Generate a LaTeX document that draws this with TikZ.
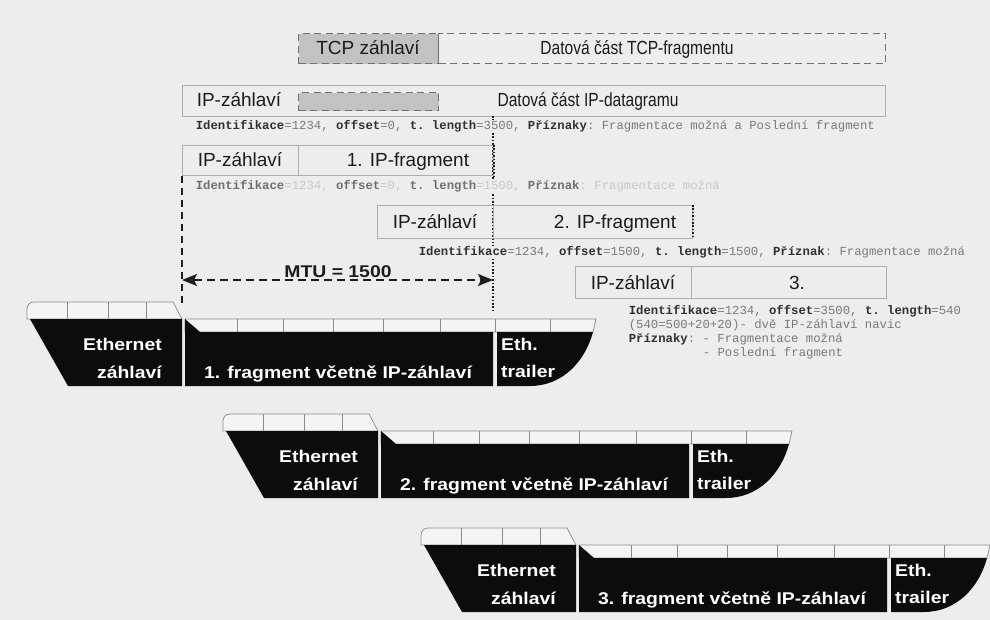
\documentclass[tikz,border=0pt]{standalone}
\usepackage{fontspec}
\setmainfont{Liberation Sans}
\newfontfamily\regf{Liberation Sans}
\newfontfamily\narrowf[FakeStretch=0.82]{Liberation Sans}
\newfontfamily\boldwf[FakeStretch=1.14]{Liberation Sans}
\newfontfamily\monof{Liberation Mono}
\usetikzlibrary{arrows.meta}
\definecolor{bg}{HTML}{EDEDED}
\definecolor{txt}{HTML}{1C1C1C}
\definecolor{boxgray}{HTML}{AEAEAE}
\definecolor{dashgray}{HTML}{707070}
\definecolor{hdrfill}{HTML}{C2C2C2}
\definecolor{keyc}{HTML}{303030}
\definecolor{valc}{HTML}{7A7A7A}
\definecolor{faintkey}{HTML}{707070}
\definecolor{faintval}{HTML}{C8C8C8}
\definecolor{frameblk}{HTML}{0C0C0C}
\definecolor{stripfill}{HTML}{F4F4F4}
\definecolor{stripline}{HTML}{8A8A8A}
\definecolor{darkline}{HTML}{1E1E1E}
\newcommand\keyw[1]{{\bfseries\color{keyc}#1}}
\newcommand\fkeyw[1]{{\bfseries\color{faintkey}#1}}
\tikzset{
  ipbox/.style={draw=boxgray, line width=0.8pt, inner sep=0pt, anchor=north west},
  tcpbox/.style={draw=dashgray, line width=1.4pt, dash pattern=on 7pt off 4.5pt, inner sep=0pt, anchor=north west},
  sanslbl/.style={font=\regf\fontsize{19}{22}\selectfont, text=txt, inner sep=0pt, anchor=base},
  narrowlbl/.style={font=\narrowf\fontsize{19}{22}\selectfont, text=txt, inner sep=0pt, anchor=base},
  monotxt/.style={font=\monof\frenchspacing\fontsize{12.3}{14.3}\selectfont, anchor=base west, inner sep=0.6pt, fill=bg, text=valc},
  ethtxt/.style={font=\boldwf\bfseries\fontsize{17}{20}\selectfont, text=white, inner sep=0pt},
  stripbox/.style={fill=stripfill, draw=stripline, line width=0.7pt},
  striplinestyle/.style={draw=stripline, line width=0.7pt},
  dashline/.style={draw=darkline, line width=1.6pt, dash pattern=on 7pt off 5pt},
  dotline/.style={draw=darkline, line width=1.5pt, dash pattern=on 1.6pt off 1.8pt},
  mtuarrow/.style={draw=darkline, line width=1.6pt, dash pattern=on 8pt off 5pt,
    {Stealth[length=15pt,width=12pt,inset=3pt]}-{Stealth[length=15pt,width=12pt,inset=3pt]}},
}
\newcommand\ethframe[4]{%
\begin{scope}[shift={(#1,#2)}]
  \path[stripbox] (27,319) -- (27,309) to[out=90,in=180] (34,302) -- (173,302) -- (182,319) -- cycle;
  \foreach \xx in {67,108,146} \draw[striplinestyle] (\xx,302) -- (\xx,319);
  \path[stripbox] (185,319) -- (596,319) -- (593,332) -- (185,332) -- cycle;
  \foreach \xx in {237,283,333,383,440,495,550} \draw[striplinestyle] (\xx,319) -- (\xx,332);
  \fill[frameblk] (30,319) -- (182,319) -- (182,386) -- (68,386) -- cycle;
  \fill[frameblk] (185,319) -- (200,332) -- (493,332) -- (493,386) -- (185,386) -- cycle;
  \fill[frameblk] (497,332) -- (593,332) .. controls (585,362) and (562,386) .. (530,386) -- (497,386) -- cycle;
  \node[ethtxt, anchor=base east] (ethA#4) at (162,350) {Ethernet};
  \node[ethtxt, anchor=base east] (ethB#4) at (162,378) {záhlaví};
  \node[ethtxt, anchor=base] (frag#4) at (338,378) {#3};
  \node[ethtxt, anchor=base west] (trA#4) at (501,350) {Eth.};
  \node[ethtxt, anchor=base west] (trB#4) at (501,377) {trailer};
\end{scope}}
\begin{document}
\begin{tikzpicture}[x=1pt,y=-1pt]
\useasboundingbox (0,0) rectangle (990,620);
\fill[bg] (0,0) rectangle (990,620);

% TCP segment
\node[tcpbox, fill=hdrfill, minimum width=140pt, minimum height=30pt] (tcph) at (298,33) {};
\node[tcpbox, minimum width=447pt, minimum height=30pt] (tcpd) at (438,33) {};
\node[sanslbl] (tcphl) at (368,55) {TCP záhlaví};
\node[narrowlbl] (tcpdl) at (637,55) {Datová část TCP-fragmentu};

% IP datagram
\node[ipbox, minimum width=703pt, minimum height=31pt] (dg) at (182,85) {};
\node[tcpbox, fill=hdrfill, line width=1.2pt, minimum width=140pt, minimum height=18pt] (dgh) at (298,92) {};
\node[sanslbl] (dghl) at (239,107) {IP-záhlaví};
\node[narrowlbl] (dgdl) at (588,107) {Datová část IP-datagramu};

% dotted MTU boundary
\coordinate (dotTop) at (493,116);
\coordinate (dotBot) at (493,312);
\draw[dotline] (dotTop) -- (dotBot);

\node[monotxt] (dgt) at (195,130) {\keyw{Identifikace}=1234, \keyw{offset}=0, \keyw{t. length}=3500, \keyw{Příznaky}: Fragmentace možná a Poslední fragment};

% fragment 1
\node[ipbox, minimum width=116pt, minimum height=30pt] (f1h) at (182,145) {};
\node[ipbox, minimum width=195pt, minimum height=30pt] (f1d) at (298,145) {};
\draw[dotline] (f1d.north east) -- (f1d.south east);
\node[sanslbl] (f1hl) at (240,167) {IP-záhlaví};
\node[sanslbl] (f1dl) at (408,167) {1. IP-fragment};
\node[monotxt, text=faintval] (f1t) at (195,190) {\fkeyw{Identifikace}=1234, \fkeyw{offset}=0, \fkeyw{t. length}=1500, \fkeyw{Příznak}: Fragmentace možná};

% fragment 2
\node[ipbox, minimum width=116pt, minimum height=33pt] (f2h) at (377,205) {};
\node[ipbox, minimum width=199pt, minimum height=33pt] (f2d) at (493,205) {};
\draw[dotline] (f2d.north east) -- (f2d.south east);
\node[sanslbl] (f2hl) at (435,229) {IP-záhlaví};
\node[sanslbl] (f2dl) at (615,229) {2. IP-fragment};
\node[monotxt] (f2t) at (418,256) {\keyw{Identifikace}=1234, \keyw{offset}=1500, \keyw{t. length}=1500, \keyw{Příznak}: Fragmentace možná};

% fragment 3
\node[ipbox, minimum width=116pt, minimum height=32pt] (f3h) at (575,266) {};
\node[ipbox, minimum width=195pt, minimum height=32pt] (f3d) at (691,266) {};
\node[sanslbl] (f3hl) at (633,289) {IP-záhlaví};
\node[sanslbl] (f3dl) at (797,289) {3.};
\node[monotxt] (f3a) at (628,314) {\keyw{Identifikace}=1234, \keyw{offset}=3500, \keyw{t. length}=540};
\node[monotxt] (f3b) at (628,328.3) {(540=500+20+20)- dvě IP-záhlaví navic};
\node[monotxt] (f3c) at (628,342.6) {\keyw{Příznaky}: - Fragmentace možná};
\node[monotxt] (f3d2) at (702,356.9) {- Poslední fragment};

% left dashed line and MTU arrow
\coordinate (dashEnd) at (182,305);
\draw[dashline] (f1h.south west) -- (dashEnd);
\coordinate (mtuL) at (182,280);
\coordinate (mtuR) at (493,280);
\draw[mtuarrow] (mtuL) -- (mtuR);
\node[font=\boldwf\bfseries\fontsize{17}{20}\selectfont, text=txt, inner sep=0pt, anchor=base] (mtul) at (338,277) {MTU = 1500};

% Ethernet frames
\ethframe{0}{0}{1. fragment včetně IP-záhlaví}{one}
\ethframe{196}{112}{2. fragment včetně IP-záhlaví}{two}
\ethframe{394}{226}{3. fragment včetně IP-záhlaví}{three}
\end{tikzpicture}
\end{document}
